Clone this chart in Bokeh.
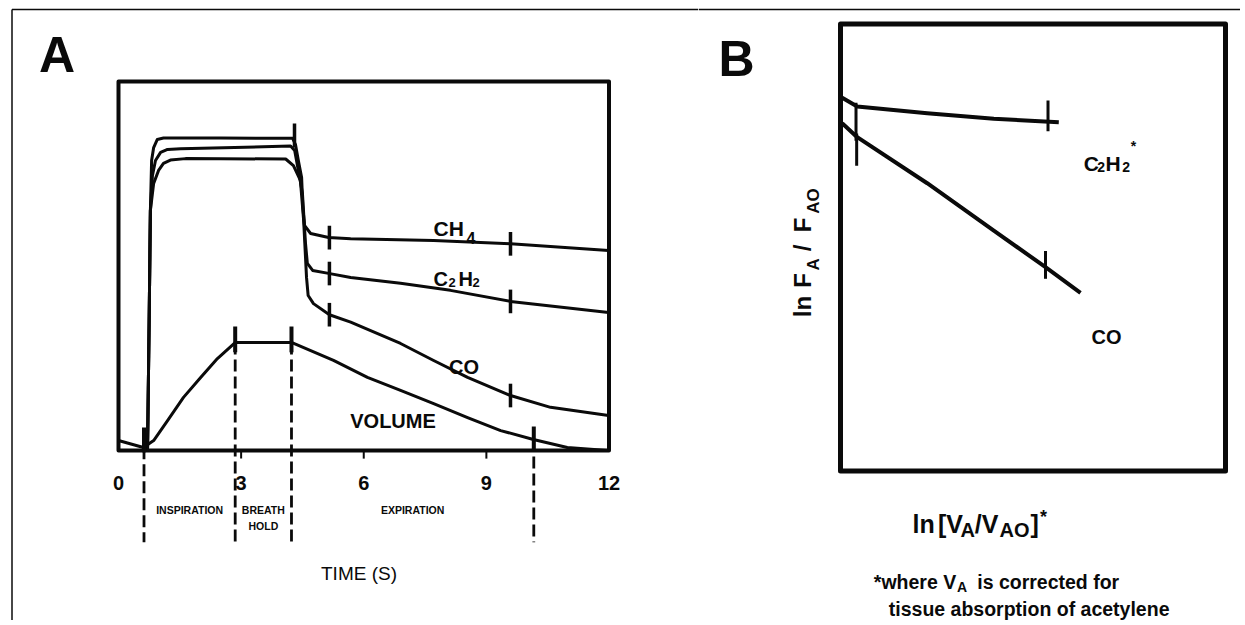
import numpy as np
from bokeh.plotting import figure
from bokeh.layouts import row
from bokeh.models import Range1d
from bokeh.embed import file_html
from bokeh.resources import INLINE
from bokeh.core.properties import value

FONT = "Liberation Sans"
INK = "#0a0a0a"

# ---------------- Panel A data (time in s, signal in % of axis height) ----------------
TIME_TICKS = [0, 3, 6, 9, 12]
TIME_TICK_LABELS = ["0", "3", "6", "9", "12"]
SIGNAL_RANGE = [0, 100]

CH4_T = [0.71, 0.75, 0.78, 0.81, 0.86, 0.95, 1.10, 2.50, 4.26, 4.33, 4.40, 4.48, 4.51,
         4.55, 4.70, 5.14, 5.68, 7.71, 9.59, 11.99]
CH4_V = [0.0, 35.2, 65.0, 78.6, 82.1, 84.3, 84.7, 84.7, 84.6, 82.9, 78.6, 74.0, 66.0,
         61.0, 58.8, 57.7, 57.4, 56.9, 56.0, 54.2]

C2H2_T = [0.71, 0.75, 0.78, 0.83, 0.905, 1.03, 1.20, 1.52, 4.21, 4.31, 4.40, 4.50, 4.575,
          4.62, 4.75, 5.14, 5.68, 6.90, 8.12, 9.59, 11.99]
C2H2_V = [0.0, 35.2, 65.0, 74.5, 78.6, 80.8, 81.6, 81.8, 82.5, 81.3, 75.9, 69.7, 56.1,
          50.7, 48.8, 48.0, 46.9, 45.3, 43.4, 40.4, 37.4]

CO_T = [0.71, 0.75, 0.78, 0.86, 0.98, 1.10, 1.27, 1.64, 4.09, 4.28, 4.45, 4.53, 4.60,
        4.64, 4.77, 5.16, 5.68, 6.90, 7.71, 8.54, 9.59, 10.57, 11.99]
CO_V = [0.0, 35.2, 65.0, 72.4, 75.9, 77.8, 78.7, 79.1, 79.0, 77.2, 73.2, 62.3, 46.9,
        42.0, 39.8, 36.8, 34.8, 29.0, 24.4, 19.8, 14.9, 11.7, 9.5]

VOL_T = [0.0, 0.61, 0.86, 1.20, 1.59, 2.01, 2.42, 2.86, 4.23, 5.26, 6.09, 6.90, 7.71,
         8.54, 9.35, 10.15, 10.98, 11.96]
VOL_V = [2.7, 0.8, 2.7, 8.1, 14.4, 19.8, 24.9, 29.3, 29.3, 24.4, 19.8, 16.3, 12.7,
         8.9, 5.4, 3.0, 0.8, 0.0]

# phase boundaries (start insp., end insp., end hold, end of sampling)
PHASE_T = [0.624, 2.855, 4.232, 10.16]
VOL_MARK_LO = [-0.5, 26.6, 26.6, 0.0]
VOL_MARK_HI = [6.2, 33.6, 33.6, 6.5]
GAS_MARK_T = [5.16, 9.59]
HOLD_MARK_T = [4.306]
HOLD_MARK_LO = [82.1]
HOLD_MARK_HI = [88.6]
PHASE_DASH_BOTTOM = -24.85

# ---------------- Panel B data (arbitrary log units) ----------------
B_RANGE_X = [0, 100]
B_RANGE_Y = [0, 100]
B_C2H2_U = [0.44, 4.34, 22.52, 39.82, 56.70]
B_C2H2_W = [83.49, 81.54, 80.04, 78.79, 78.03]
B_CO_U = [0.44, 4.34, 22.52, 39.82, 53.25, 62.34]
B_CO_W = [77.81, 74.68, 64.38, 53.80, 45.59, 39.87]
B_MARK_U = [4.03, 4.20, 53.9, 53.25]
B_MARK_LO = [73.9, 68.3, 76.0, 43.0]
B_MARK_HI = [82.4, 75.5, 82.9, 49.2]

H = 620
WA, WB = 698, 542


def ranges(width, height, box, xlim, ylim):
    """box = (left, right, top, bottom) in canvas px of the data box xlim x ylim."""
    bl, br, bt, bb = box
    sx = (br - bl) / (xlim[1] - xlim[0])
    sy = (bb - bt) / (ylim[1] - ylim[0])
    xr = Range1d(xlim[0] - bl / sx, xlim[0] + (width - bl) / sx)
    yr = Range1d(ylim[0] - (height - bb) / sy, ylim[0] + bb / sy)
    return xr, yr


def make_fig(width, xr, yr):
    p = figure(width=width, height=H, x_range=xr, y_range=yr,
               x_axis_type=None, y_axis_type=None, output_backend="svg",
               toolbar_location=None, min_border=0)
    p.grid.visible = False
    p.outline_line_color = None
    p.background_fill_color = "white"
    p.border_fill_color = "white"
    return p


def label(p, x, y, txt, size, style="bold", align="left", baseline="alphabetic", angle=0.0):
    p.text(x=[x], y=[y], text=[txt], text_font=value(FONT), text_font_size=value(f"{size}px"),
           text_font_style=style, text_align=align, text_baseline=baseline,
           text_color=INK, angle=angle)


# ================= Panel A =================
xrA, yrA = ranges(WA, H, (118, 608.5, 81, 450), [TIME_TICKS[0], TIME_TICKS[-1]], SIGNAL_RANGE)
pA = make_fig(WA, xrA, yrA)

# outer page border (top and left)
pA.line([-2.6055, xrA.end], [119.51, 119.51], line_color=INK, line_width=1.5)
pA.line([-2.6055, -2.6055], [119.51, yrA.start], line_color=INK, line_width=1.5)

# dashed phase boundaries
vol_at_phase = np.interp(PHASE_T, VOL_T, VOL_V)
pA.segment(x0=PHASE_T, y0=list(vol_at_phase), x1=PHASE_T, y1=[PHASE_DASH_BOTTOM] * len(PHASE_T),
           line_color=INK, line_width=2.8, line_dash="12 5")

# axis box
pA.quad(left=[TIME_TICKS[0]], right=[TIME_TICKS[-1]], bottom=[SIGNAL_RANGE[0]], top=[SIGNAL_RANGE[1]],
        fill_color=None, line_color=INK, line_width=4, line_join="round")

# x ticks
inner = TIME_TICKS[1:-1]
pA.segment(x0=inner, y0=[0] * len(inner), x1=inner, y1=[-2.2] * len(inner),
           line_color=INK, line_width=2)
pA.text(x=TIME_TICKS, y=[-8.9] * len(TIME_TICKS), text=TIME_TICK_LABELS,
        text_font=value(FONT), text_font_size=value("20px"), text_font_style="bold",
        text_align="center", text_baseline="alphabetic", text_color=INK)

# curves
for tt, vv in [(CH4_T, CH4_V), (C2H2_T, C2H2_V), (CO_T, CO_V), (VOL_T, VOL_V)]:
    pA.line(tt, vv, line_color=INK, line_width=3, line_join="round", line_cap="round")

# marks on curves
pA.segment(x0=PHASE_T, y0=VOL_MARK_LO, x1=PHASE_T, y1=VOL_MARK_HI, line_color=INK, line_width=4)
pA.segment(x0=HOLD_MARK_T, y0=HOLD_MARK_LO, x1=HOLD_MARK_T, y1=HOLD_MARK_HI,
           line_color=INK, line_width=3.5)
for tt, vv in [(CH4_T, CH4_V), (C2H2_T, C2H2_V), (CO_T, CO_V)]:
    c = np.interp(GAS_MARK_T, tt, vv)
    pA.segment(x0=GAS_MARK_T, y0=list(c - 3.2), x1=GAS_MARK_T, y1=list(c + 3.2),
               line_color=INK, line_width=3.5)

# curve labels
label(pA, 7.706, 60.16, "CH", 21)
label(pA, 8.514, 57.72, "4", 16)
label(pA, 7.706, 46.61, "C", 20)
label(pA, 8.073, 45.53, "2", 13)
label(pA, 8.318, 46.61, "H", 20)
label(pA, 8.661, 45.53, "2", 13)
label(pA, 8.453, 22.76, "CO", 20, align="center")
label(pA, 6.716, 8.13, "VOLUME", 20, align="center")

# phase labels
mid = lambda a, b: 0.5 * (a + b)
label(pA, mid(PHASE_T[0], PHASE_T[1]), -15.99, "INSPIRATION", 10.5, align="center")
label(pA, mid(PHASE_T[1], PHASE_T[2]), -15.99, "BREATH", 10.5, align="center")
label(pA, mid(PHASE_T[1], PHASE_T[2]), -20.33, "HOLD", 10.5, align="center")
label(pA, mid(PHASE_T[2], PHASE_T[3]), -15.99, "EXPIRATION", 10.5, align="center")
label(pA, 5.884, -33.33, "TIME (S)", 19, style="normal", align="center")

label(pA, -1.505, 107.05, "A", 50, align="center")

# ================= Panel B =================
xrB, yrB = ranges(WB, H, (142, 527, 23.5, 470.5), B_RANGE_X, B_RANGE_Y)
pB = make_fig(WB, xrB, yrB)

pB.line([xrB.start, xrB.end], [103.24, 103.24], line_color=INK, line_width=1.5)

pB.quad(left=[B_RANGE_X[0]], right=[B_RANGE_X[1]], bottom=[B_RANGE_Y[0]], top=[B_RANGE_Y[1]],
        fill_color=None, line_color=INK, line_width=5, line_join="round")
pB.line(B_C2H2_U, B_C2H2_W, line_color=INK, line_width=4, line_join="round")
pB.line(B_CO_U, B_CO_W, line_color=INK, line_width=4, line_join="round")
pB.segment(x0=B_MARK_U, y0=B_MARK_LO, x1=B_MARK_U, y1=B_MARK_HI, line_color=INK, line_width=3)

# curve labels
label(pB, 63.19, 68.72, "C", 21)
label(pB, 66.67, 67.90, "2", 14)
label(pB, 68.83, 68.72, "H", 21)
label(pB, 73.17, 67.90, "2", 14)
label(pB, 75.40, 72.6, "*", 14)
label(pB, 69.09, 29.87, "CO", 20, align="center")

# y label (rotated)
ang = np.pi / 2
label(pB, -9.95, 34.41, "ln", 24, angle=ang)
label(pB, -9.95, 40.98, "F", 24, angle=ang)
label(pB, -7.01, 44.85, "A", 17, angle=ang)
label(pB, -9.95, 49.17, "/", 24, angle=ang)
label(pB, -9.95, 53.42, "F", 24, angle=ang)
label(pB, -7.01, 57.54, "AO", 17, angle=ang)

# x label
label(pB, 18.70, -11.81, "ln", 25)
label(pB, 25.30, -11.81, "[V", 25)
label(pB, 31.20, -13.2, "A", 20)
label(pB, 34.88, -11.81, "/V", 25)
label(pB, 41.30, -13.2, "AO", 20)
label(pB, 49.35, -11.81, "]", 25)
label(pB, 51.80, -10.3, "*", 18)

# footnote
label(pB, 8.65, -24.88, "*where V", 19.5)
label(pB, 30.26, -26.0, "A", 14)
label(pB, 35.51, -24.88, "is corrected for", 19.5)
label(pB, 12.55, -30.9, "tissue absorption of acetylene", 19.5)

label(pB, -27.01, 92.28, "B", 50, align="center")

layout = row(pA, pB)
open("out.html", "w").write(file_html(layout, INLINE))
